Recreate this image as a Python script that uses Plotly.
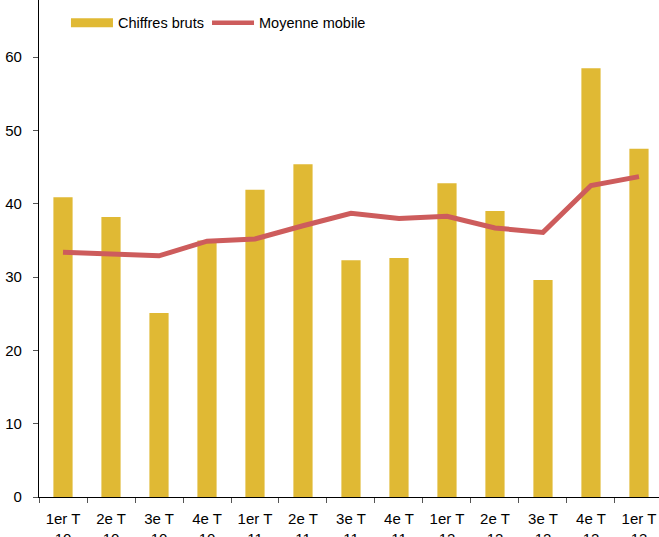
import plotly.graph_objects as go

categories = ["1er T<br>10", "2e T<br>10", "3e T<br>10", "4e T<br>10",
              "1er T<br>11", "2e T<br>11", "3e T<br>11", "4e T<br>11",
              "1er T<br>12", "2e T<br>12", "3e T<br>12", "4e T<br>12",
              "1er T<br>13"]
chiffres_bruts = [40.9, 38.2, 25.1, 35.0, 41.9, 45.4, 32.3, 32.6, 42.8, 39.0, 29.6, 58.5, 47.5]
moyenne_mobile = [33.4, 33.1, 32.9, 34.9, 35.2, 37.0, 38.7, 38.0, 38.3, 36.7, 36.1, 42.5, 43.7]

BAR_COLOR = "#E0B934"
LINE_COLOR = "#CD5C5C"
FONT = "Liberation Sans, Arial, sans-serif"

fig = go.Figure()
fig.add_trace(go.Bar(x=categories, y=chiffres_bruts, marker_color=BAR_COLOR,
                     marker_line_width=0, width=0.4, showlegend=False,
                     name="Chiffres bruts"))
fig.add_trace(go.Scatter(x=categories, y=moyenne_mobile, mode="lines",
                         line=dict(color=LINE_COLOR, width=5), showlegend=False,
                         name="Moyenne mobile"))
# legend entries
fig.add_trace(go.Scatter(x=[None], y=[None], mode="lines", legend="legend",
                         line=dict(color=BAR_COLOR, width=9), name="Chiffres bruts"))
fig.add_trace(go.Scatter(x=[None], y=[None], mode="lines", legend="legend2",
                         line=dict(color=LINE_COLOR, width=4.5), name="Moyenne mobile"))

legend_common = dict(orientation="h", yanchor="middle", y=0.954, xanchor="left",
                     font=dict(size=14.5), bgcolor="rgba(0,0,0,0)", itemwidth=42)

fig.update_layout(
    width=659, height=537,
    margin=dict(l=39, r=0, t=0, b=40, pad=0),
    paper_bgcolor="white", plot_bgcolor="white",
    font=dict(family=FONT, size=15, color="black"),
    bargap=0.6,
    legend=dict(x=0.0435, **legend_common),
    legend2=dict(x=0.271, **legend_common),
    xaxis=dict(type="category", range=[-0.5, 12.417], showline=True, linecolor="black",
               linewidth=1.3, ticks="outside", tickson="boundaries", ticklen=5,
               tickcolor="#555", showgrid=False, tickangle=0, fixedrange=True,
               ticklabelstandoff=8, automargin=False),
    yaxis=dict(range=[0, 67.8], dtick=10, showline=True, linecolor="black", linewidth=1.3,
               ticks="outside", ticklen=5, tickcolor="#555", showgrid=False,
               zeroline=False, ticklabelstandoff=8, automargin=False),
)

fig.write_html("out.html", config={"displayModeBar": False},
               post_script="document.body.style.margin='0';document.body.style.overflow='hidden';")
